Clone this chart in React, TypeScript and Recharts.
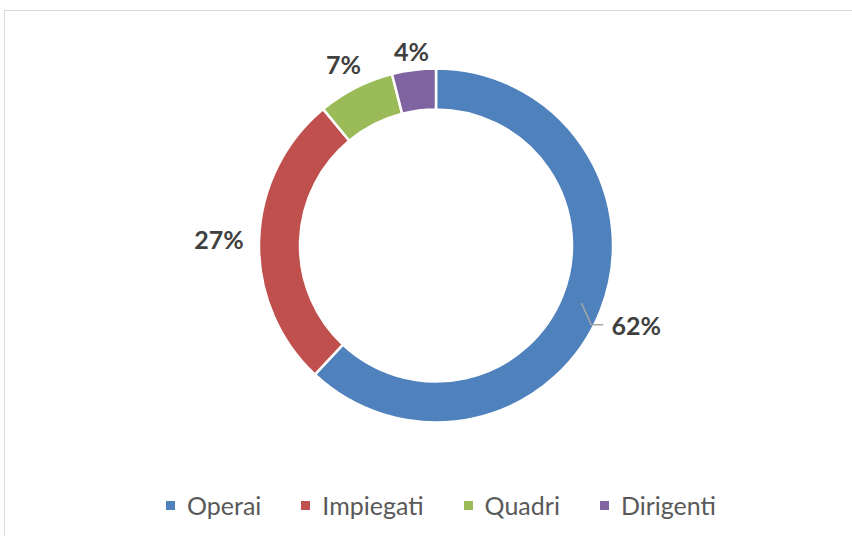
import { PieChart, Pie, Cell, Legend } from 'recharts';

const categories = ['Operai', 'Impiegati', 'Quadri', 'Dirigenti'];
const values = [62, 27, 7, 4];
const colors = ['#4F81BD', '#C0504D', '#9BBB59', '#8064A2'];

// only this slice gets a leader line in the original
const LINED = 'Operai';

const data = categories.map((name, i) => ({ name, value: values[i] }));

const RADIAN = Math.PI / 180;
const FONT = 'Lato, "Open Sans", sans-serif';

function renderLabel(props: any) {
  const { cx, cy, midAngle, innerRadius, outerRadius, percent, name } = props;
  const cos = Math.cos(-midAngle * RADIAN);
  const sin = Math.sin(-midAngle * RADIAN);
  // push label out further where the text is wide relative to direction
  const r = outerRadius + 16 + 24 * Math.abs(cos);
  const tx = cx + r * cos;
  const ty = cy + r * sin;
  const text = `${Math.round(percent * 100)}%`;
  let line = null;
  if (name === LINED) {
    const mr = (innerRadius + outerRadius) / 2;
    const sx = cx + mr * cos;
    const sy = cy + mr * sin;
    const left = tx - 25;
    line = (
      <polyline
        points={`${sx},${sy} ${left - 20},${ty} ${left - 8},${ty}`}
        fill="none"
        stroke="#A6A6A6"
        strokeWidth={1.5}
      />
    );
  }
  return (
    <g key={`lbl-${name}`}>
      {line}
      <text
        x={tx}
        y={ty}
        textAnchor="middle"
        dominantBaseline="central"
        fill="#404040"
        fontFamily={FONT}
        fontWeight={700}
        fontSize={25}
      >
        {text}
      </text>
    </g>
  );
}

function renderLegend() {
  return (
    <div style={{ display: 'flex', justifyContent: 'center', alignItems: 'center', fontFamily: FONT }}>
      {categories.map((c, i) => (
        <div key={c} style={{ display: 'flex', alignItems: 'center', marginRight: i < categories.length - 1 ? 40 : 0 }}>
          <span style={{ display: 'inline-block', width: 9, height: 9, background: colors[i], marginRight: 12 }} />
          <span style={{ fontSize: 25, color: '#595959', lineHeight: '30px' }}>{c}</span>
        </div>
      ))}
    </div>
  );
}

export default function App() {
  return (
    <div style={{ position: 'fixed', left: 0, top: 0, width: 852, height: 536, overflow: 'hidden', background: '#fff' }}>
      <div style={{ position: 'absolute', left: 4, top: 10, width: 900, height: 600, border: '1px solid #D9D9D9' }} />
      <div style={{ position: 'absolute', left: 0, top: 0 }}>
        <PieChart width={852} height={536}>
          <Pie
            data={data}
            dataKey="value"
            nameKey="name"
            cx={431}
            cy={240.5}
            innerRadius={136}
            outerRadius={177}
            startAngle={90}
            endAngle={-270}
            stroke="#fff"
            strokeWidth={2.5}
            label={renderLabel}
            labelLine={false}
            isAnimationActive={false}
          >
            {data.map((d, i) => (
              <Cell key={d.name} fill={colors[i]} />
            ))}
          </Pie>
          <Legend content={renderLegend} wrapperStyle={{ top: 490, left: 15, width: 852 }} />
        </PieChart>
      </div>
    </div>
  );
}
